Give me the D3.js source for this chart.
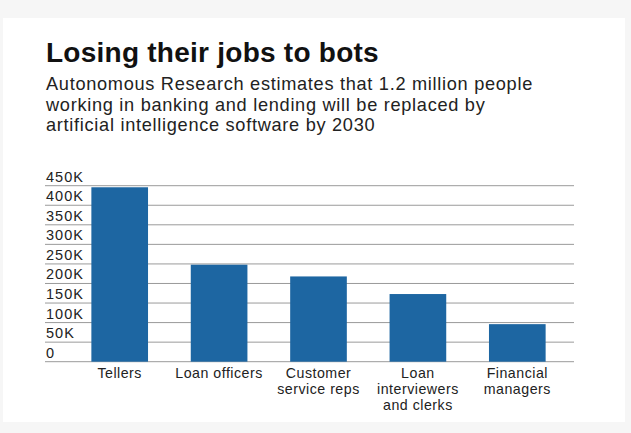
<!DOCTYPE html>
<html>
<head>
<meta charset="utf-8">
<script src="https://d3js.org/d3.v7.min.js"></script>
<style>
  body { margin: 0; background: #f6f6f6; }
  text { font-family: "Liberation Sans", Arial, sans-serif; }
</style>
</head>
<body>
<script>
// chart values
var jobs = ["Tellers", "Loan officers", "Customer service reps", "Loan interviewers and clerks", "Financial managers"];
var jobLines = [["Tellers"], ["Loan officers"], ["Customer", "service reps"], ["Loan", "interviewers", "and clerks"], ["Financial", "managers"]];
var lost = [446000, 248000, 218000, 173000, 96000];
var yTicks = [0, 50000, 100000, 150000, 200000, 250000, 300000, 350000, 400000, 450000];
var yTickLabels = ["0", "50K", "100K", "150K", "200K", "250K", "300K", "350K", "400K", "450K"];

var title = "Losing their jobs to bots";
var subtitle = ["Autonomous Research estimates that 1.2 million people",
                "working in banking and lending will be replaced by",
                "artificial intelligence software by 2030"];

var width = 631, height = 433;

var svg = d3.select("body").append("svg")
    .attr("width", width)
    .attr("height", height);

// white card
svg.append("rect")
    .attr("x", 3).attr("y", 18)
    .attr("width", 622).attr("height", 404)
    .attr("fill", "#fff");

svg.append("text")
    .attr("x", 46).attr("y", 62)
    .attr("font-size", 28)
    .attr("font-weight", "bold")
    .attr("letter-spacing", 0.25)
    .attr("fill", "#111")
    .text(title);

svg.append("g").selectAll("text")
    .data(subtitle)
    .enter().append("text")
    .attr("x", 46)
    .attr("y", function(d, i) { return 90 + i * 20.6; })
    .attr("font-size", 18.2)
    .attr("letter-spacing", 0.7)
    .attr("fill", "#222")
    .text(function(d) { return d; });

var x = d3.scaleBand()
    .domain(jobs)
    .range([70, 567])
    .paddingInner(0.43)
    .paddingOuter(0.215);

var y = d3.scaleLinear()
    .domain([0, 450000])
    .range([361.7, 185.7]);

// grid lines with labels sitting above them
var grid = svg.append("g");
grid.selectAll("line")
    .data(yTicks)
    .enter().append("line")
    .attr("x1", 45).attr("x2", 574)
    .attr("y1", function(d) { return y(d); })
    .attr("y2", function(d) { return y(d); })
    .attr("stroke", "#9a9a9a")
    .attr("stroke-width", 1);

grid.selectAll("text")
    .data(yTicks)
    .enter().append("text")
    .attr("x", 46)
    .attr("y", function(d) { return y(d) - 4; })
    .attr("font-size", 14.5)
    .attr("letter-spacing", 1)
    .attr("fill", "#222")
    .text(function(d, i) { return yTickLabels[i]; });

svg.append("g").selectAll("rect")
    .data(lost)
    .enter().append("rect")
    .attr("x", function(d, i) { return x(jobs[i]); })
    .attr("width", x.bandwidth())
    .attr("y", function(d) { return y(d); })
    .attr("height", function(d) { return y(0) - y(d); })
    .attr("fill", "#1d66a2");

// category labels, one text per line
var xl = svg.append("g");
jobs.forEach(function(job, j) {
    xl.selectAll(null)
        .data(jobLines[j])
        .enter().append("text")
        .attr("text-anchor", "middle")
        .attr("font-size", 14.2)
        .attr("letter-spacing", 0.5)
        .attr("fill", "#222")
        .attr("x", x(job) + x.bandwidth() / 2)
        .attr("y", function(d, i) { return 378 + i * 16; })
        .text(function(d) { return d; });
});
</script>
</body>
</html>
